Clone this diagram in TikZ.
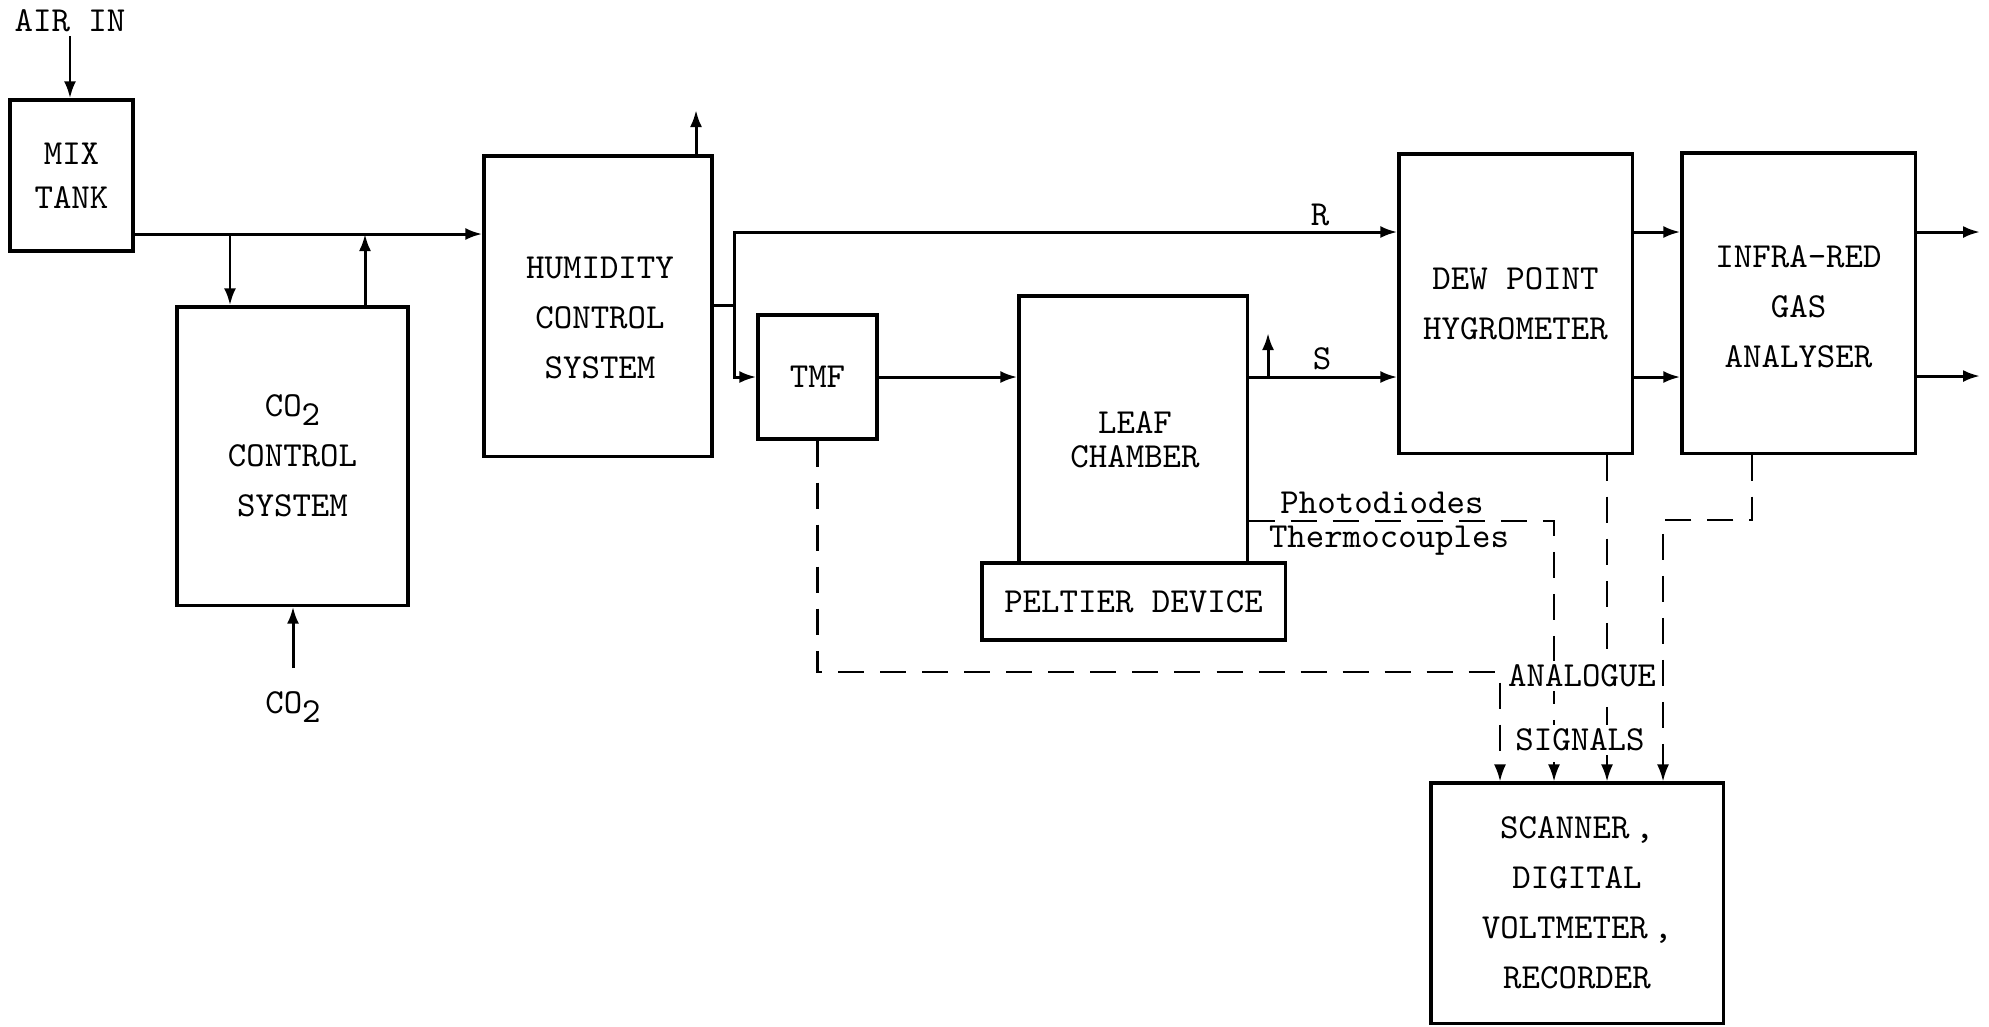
\documentclass[tikz,border=0pt]{standalone}
\usetikzlibrary{arrows.meta}

\tikzset{
  block/.style={draw, line width=0.9pt, align=center, inner sep=0pt,
    font=\ttfamily\fontsize{10}{14.2}\selectfont},
  pipe/.style={line width=0.85pt},
  flow/.style={pipe, -{Latex[length=1.7mm,width=1.2mm]}},
  signal/.style={line width=0.6pt, dash pattern=on 2.6mm off 1.6mm,
    -{Latex[length=1.7mm,width=1.2mm]}},
  lbl/.style={font=\ttfamily\fontsize{10}{12}\selectfont, inner sep=1pt},
}
\newcommand{\cotwo}{CO\raisebox{-0.6ex}{2}}

\begin{document}
\begin{tikzpicture}[x=0.01cm, y=-0.01cm]
\useasboundingbox (0,0) rectangle (1989,1026);

% boxes
\node[block, minimum width=1.23cm, minimum height=1.51cm,
  font=\ttfamily\fontsize{10}{12.5}\selectfont] (mix) at (71.5,175.5) {MIX\\TANK};
\node[block, minimum width=2.31cm, minimum height=2.98cm] (co2) at (292.5,456) {\cotwo\\CONTROL\\SYSTEM};
\node[block, minimum width=2.28cm, minimum height=3.00cm] (hum) at (598,306) {};
\node[block, draw=none] (humtxt) at (600,318) {HUMIDITY\\CONTROL\\SYSTEM};
\node[block, minimum width=1.19cm, minimum height=1.24cm] (tmf) at (817.5,377) {TMF};
\node[block, minimum width=2.28cm, minimum height=2.67cm] (leaf) at (1133,429.5) {};
\node[block, draw=none, font=\ttfamily\fontsize{10}{9.7}\selectfont] (leaftxt) at (1135,440) {LEAF\\CHAMBER};
\node[block, minimum width=3.03cm, minimum height=0.77cm] (pelt) at (1133.5,601.5) {PELTIER DEVICE};
\node[block, minimum width=2.33cm, minimum height=2.99cm] (dew) at (1515.5,303.5) {DEW POINT\\HYGROMETER};
\node[block, minimum width=2.33cm, minimum height=3.00cm] (ir) at (1798.5,303) {};
\node[block, draw=none] (irtxt) at (1798.5,307) {INFRA-RED\\GAS\\ANALYSER};
\node[block, minimum width=2.92cm, minimum height=2.40cm] (scan) at (1577,903) {SCANNER\,,\\DIGITAL\\VOLTMETER\,,\\RECORDER};

% air and CO2 supply
\node[lbl] (air) at (70,21) {AIR IN};
\draw[flow] (air.south) -- (air.south |- mix.north);
\coordinate (j1) at (230,234);
\coordinate (j2) at (365,234);
\draw[flow] (mix.east |- j1) -- (hum.west |- j1);
\draw[flow] (j1) -- (co2.north -| j1);
\draw[flow] (co2.north -| j2) -- (j2);
\node[lbl] (gas) at (293,707) {\cotwo};
\coordinate (gastop) at (293,668);
\draw[flow] (gastop) -- (co2.south -| gastop);
\coordinate (humvent) at (696,110);
\draw[flow] (hum.north -| humvent) -- (humvent);

% reference and sample lines
\coordinate (sp) at (734,305);
\coordinate (rl) at (1320,232);
\draw[pipe] (hum.east |- sp) -- (sp);
\draw[flow] (sp) |- (dew.west |- rl);
\node[lbl] (rlab) at (1320,215) {R};
\draw[flow] (sp) |- (tmf.west);
\draw[flow] (tmf.east) -- (leaf.west |- tmf.east);
\draw[flow] (leaf.east |- tmf.east) -- (dew.west |- tmf.east);
\node[lbl] (slab) at (1322,359) {S};
\coordinate (leafvent) at (1268,333);
\draw[flow] (leafvent |- tmf.east) -- (leafvent);
\draw[flow] (dew.east |- rl) -- (ir.west |- rl);
\draw[flow] (dew.east |- tmf.east) -- (ir.west |- tmf.east);
\coordinate (out1) at (1980,232);
\coordinate (out2) at (1980,376);
\draw[flow] (ir.east |- out1) -- (out1);
\draw[flow] (ir.east |- out2) -- (out2);

% analogue signals
\coordinate (tm) at (1500,672);
\coordinate (pd) at (1554,521);
\coordinate (dw) at (1607,453);
\coordinate (ia) at (1752,453);
\coordinate (ib) at (1663,520);
\draw[signal] (tmf.south) |- (tm) -- (scan.north -| tm);
\draw[signal] (leaf.east |- pd) -- (pd) -- (scan.north -| pd);
\draw[signal] (dew.south -| dw) -- (scan.north -| dw);
\draw[signal] (ir.south -| ia) |- (ib) -- (scan.north -| ib);

\node[lbl] (pdl) at (1382,503) {Photodiodes};
\node[lbl] (tcl) at (1389,541) {Thermocouples};
\node[lbl, fill=white] (ana) at (1582,676) {ANALOGUE};
\node[lbl, fill=white] (sigl) at (1580,740) {SIGNALS};
\end{tikzpicture}
\end{document}
